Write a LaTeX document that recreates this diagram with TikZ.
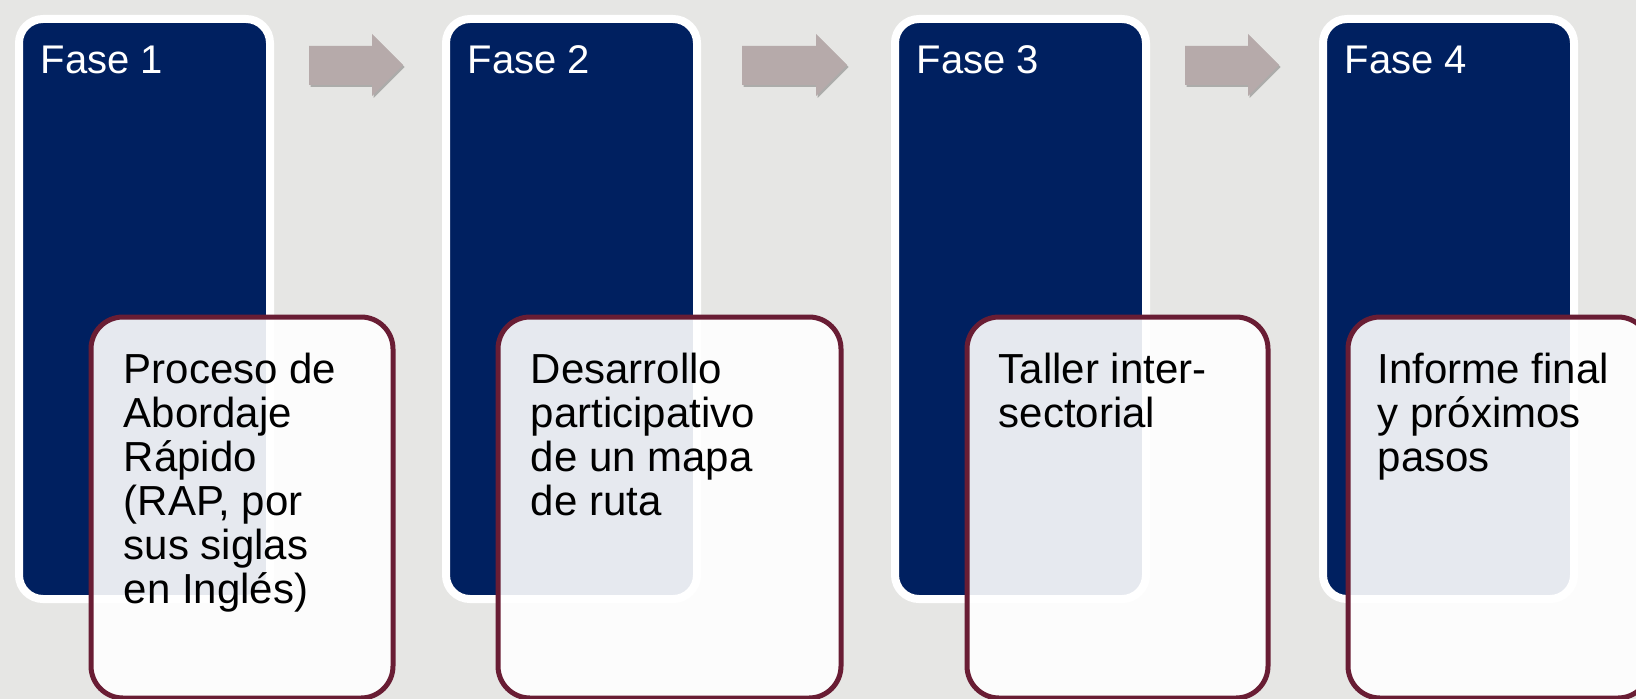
\documentclass[tikz,border=0pt]{standalone}
\usepackage{fontspec}
\setmainfont{Liberation Sans}
\usetikzlibrary{shadows}
\definecolor{bg}{RGB}{230,230,228}
\definecolor{navy}{RGB}{0,32,96}
\definecolor{wine}{RGB}{105,29,52}
\definecolor{arrowgray}{RGB}{182,170,170}
\begin{document}
\begin{tikzpicture}[x=1bp,y=-1bp,
  phase/.style={draw=white, line width=8bp, fill=navy, rounded corners=24bp,
    minimum width=251bp, minimum height=580bp, anchor=north west, inner sep=0pt,
    drop shadow={shadow xshift=-1.5bp, shadow yshift=-3bp, opacity=0.22, fill=black}},
  detail/.style={draw=wine, line width=5bp, fill=white, fill opacity=0.9,
    rounded corners=32bp, minimum height=381bp, anchor=north west, inner sep=0pt},
  head/.style={anchor=base west, inner sep=0pt, text=white,
    font=\fontsize{40bp}{44bp}\selectfont},
  body/.style={anchor=base west, inner sep=0pt, text=black,
    font=\fontsize{42bp}{44bp}\selectfont},
  blockarrow/.style={fill=arrowgray,
    drop shadow={shadow xshift=1.5bp, shadow yshift=-2bp, opacity=0.25, fill=black}}
]
\fill[bg] (0,0) rectangle (1636,699);
\useasboundingbox (0,0) rectangle (1636,699);

% phase boxes
\node[phase] (f1) at (15,15) {};
\node[phase] (f2) at (442,15) {};
\node[phase] (f3) at (891,15) {};
\node[phase] (f4) at (1319,15) {};

\node[head] (h1) at (f1.north west) [xshift=25.5bp, yshift=-59bp] {Fase 1};
\node[head] (h2) at (f2.north west) [xshift=25.5bp, yshift=-59bp] {Fase 2};
\node[head] (h3) at (f3.north west) [xshift=25.5bp, yshift=-59bp] {Fase 3};
\node[head] (h4) at (f4.north west) [xshift=25.5bp, yshift=-59bp] {Fase 4};

% block arrows
\fill[blockarrow] (309,46) -- (372,46) -- (372,34) -- (403,65) -- (372,96) -- (372,85) -- (309,85) -- cycle;
\fill[blockarrow] (742,46) -- (816,46) -- (816,34) -- (847,65) -- (816,96) -- (816,85) -- (742,85) -- cycle;
\fill[blockarrow] (1185,46) -- (1248,46) -- (1248,34) -- (1279,65) -- (1248,96) -- (1248,85) -- (1185,85) -- cycle;

% detail boxes
\node[detail, minimum width=302bp] (d1) at (88.5,314.5) {};
\node[detail, minimum width=343bp] (d2) at (495.5,314.5) {};
\node[detail, minimum width=301bp] (d3) at (964.5,314.5) {};
\node[detail, minimum width=302bp] (d4) at (1345.5,314.5) {};

\node[body] (t1) at (d1.north west) [xshift=35bp, yshift=-68.5bp]
  {\parbox[t]{280bp}{\raggedright Proceso de\\Abordaje\\Rápido\\(RAP, por\\sus siglas\\en Inglés)}};
\node[body] (t2) at (d2.north west) [xshift=35bp, yshift=-68.5bp]
  {\parbox[t]{300bp}{\raggedright Desarrollo\\participativo\\de un mapa\\de ruta}};
\node[body] (t3) at (d3.north west) [xshift=34bp, yshift=-68.5bp]
  {\parbox[t]{280bp}{\raggedright Taller inter-\\sectorial}};
\node[body] (t4) at (d4.north west) [xshift=32bp, yshift=-68.5bp]
  {\parbox[t]{280bp}{\raggedright Informe final\\y próximos\\pasos}};
\end{tikzpicture}
\end{document}
